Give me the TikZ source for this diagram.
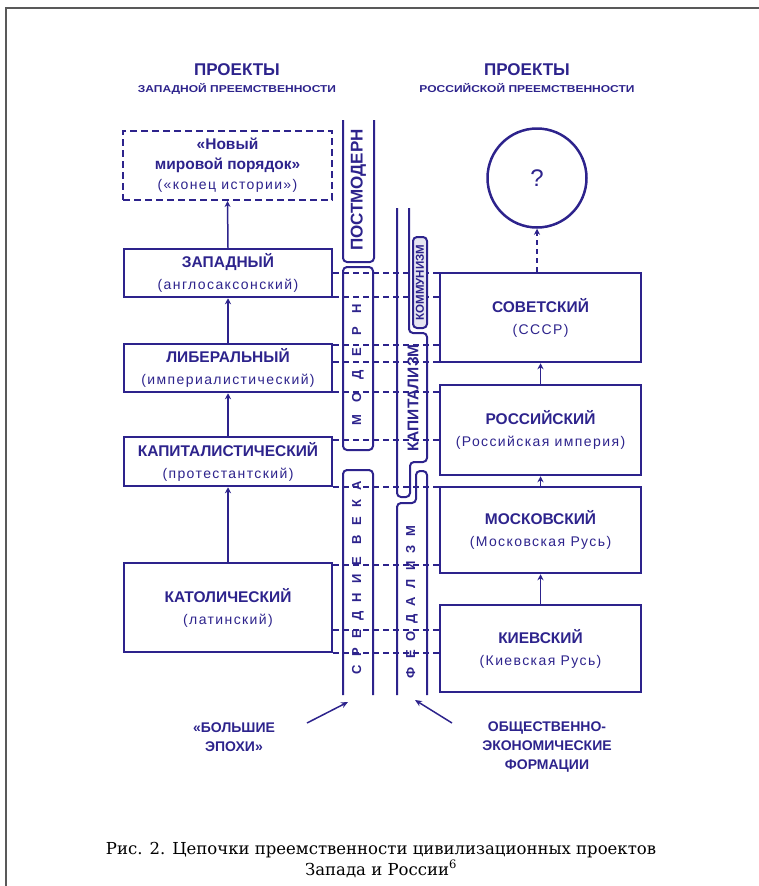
\documentclass[tikz,border=0pt]{standalone}
\usepackage{fontspec}
\setmainfont{Liberation Sans}
\newfontfamily\subfont[LetterSpace=10]{Liberation Sans}
\newfontfamily\capfont{DejaVu Serif}
\usetikzlibrary{arrows.meta}
\definecolor{navy}{RGB}{45,35,140}
\newcommand{\ttl}{\bfseries\fontsize{15.5}{22}\selectfont}
\newcommand{\sbt}{\subfont\fontsize{14}{22}\selectfont}
\newcommand{\spaced}[1]{\bfseries\fontsize{13}{13}\selectfont\addfontfeature{LetterSpace=#1}}

\begin{document}
\begin{tikzpicture}[x=1pt,y=-1pt]
\useasboundingbox (0,0) rectangle (759,886);

\coordinate (H1) at (0,273);
\coordinate (H2) at (0,297);
\coordinate (H3) at (0,345);
\coordinate (H4) at (0,362);
\coordinate (H5) at (0,392);
\coordinate (H6) at (0,440);
\coordinate (H7) at (0,487);
\coordinate (H8) at (0,565);
\coordinate (H9) at (0,630);
\coordinate (H10) at (0,653);
\coordinate (BEtail) at (307,723);
\coordinate (BEtip) at (348,702);
\coordinate (OFtail) at (452,723);
\coordinate (OFtip) at (415,700);

\draw[black!65, line width=1.2pt] (759,8) -- (6,8) -- (6,886);


\tikzset{HeadStyle/.style = {text = navy, inner sep = 0pt, anchor = base} }

\node[HeadStyle, font=\bfseries\fontsize{17}{17}\selectfont] (T1) at (237,75) {ПРОЕКТЫ};
\node[HeadStyle, xscale=1.2, font=\bfseries\fontsize{10}{10}\selectfont] (T2) at (237,92) {ЗАПАДНОЙ ПРЕЕМСТВЕННОСТИ};
\node[HeadStyle, font=\bfseries\fontsize{17}{17}\selectfont] (T3) at (527,75) {ПРОЕКТЫ};
\node[HeadStyle, xscale=1.2, font=\bfseries\fontsize{10}{10}\selectfont] (T4) at (527,92) {РОССИЙСКОЙ ПРЕЕМСТВЕННОСТИ};


\tikzset{BoxStyle/.style = {
 draw = navy,
 line width = 2.5pt,
 text = navy,
 align = center,
 inner sep = 0pt,
 font = \fontsize{15}{22}\selectfont} }

\node[BoxStyle, line width=2pt, dash pattern=on 7pt off 4pt, minimum width=209pt, minimum height=69pt, font=\fontsize{15}{20}\selectfont] (W0) at (227.5,165.5) {{\ttl «Новый}\\{\ttl мировой порядок»}\\{\sbt («конец истории»)}};
\node[BoxStyle, minimum width=208pt, minimum height=48pt] (W1) at (228,273) {{\ttl ЗАПАДНЫЙ}\\{\sbt (англосаксонский)}};
\node[BoxStyle, minimum width=208pt, minimum height=48pt] (W2) at (228,368) {{\ttl ЛИБЕРАЛЬНЫЙ}\\{\sbt (империалистический)}};
\node[BoxStyle, minimum width=208pt, minimum height=49pt] (W3) at (228,461.5) {{\ttl КАПИТАЛИСТИЧЕСКИЙ}\\{\sbt (протестантский)}};
\node[BoxStyle, minimum width=208pt, minimum height=89pt] (W4) at (228,607.5) {{\ttl КАТОЛИЧЕСКИЙ}\\{\sbt (латинский)}};

\node[BoxStyle, minimum width=201pt, minimum height=89pt] (R1) at (540.5,317.5) {{\ttl СОВЕТСКИЙ}\\{\sbt (СССР)}};
\node[BoxStyle, minimum width=201pt, minimum height=90pt] (R2) at (540.5,430) {{\ttl РОССИЙСКИЙ}\\{\sbt (Российская империя)}};
\node[BoxStyle, minimum width=201pt, minimum height=86pt] (R3) at (540.5,530) {{\ttl МОСКОВСКИЙ}\\{\sbt (Московская Русь)}};
\node[BoxStyle, minimum width=201pt, minimum height=87pt] (R4) at (540.5,648.5) {{\ttl КИЕВСКИЙ}\\{\sbt (Киевская Русь)}};

\node[BoxStyle, circle, minimum size=99pt, font=\fontsize{24}{24}\selectfont] (Q) at (537,178) {?};


\tikzset{DashStyle/.style = {draw = navy, line width = 1.5pt, dash pattern = on 6pt off 4pt} }

\draw[DashStyle] (W1.east |- H1) -- (R1.west |- H1);
\draw[DashStyle] (W1.east |- H2) -- (R1.west |- H2);
\draw[DashStyle] (W2.east |- H3) -- (R1.west |- H3);
\draw[DashStyle] (W2.east |- H4) -- (R1.west |- H4);
\draw[DashStyle] (W2.east |- H5) -- (R2.west |- H5);
\draw[DashStyle] (W3.east |- H6) -- (R2.west |- H6);
\draw[DashStyle] (W3.east |- H7) -- (R3.west |- H7);
\draw[DashStyle] (W4.east |- H8) -- (R3.west |- H8);
\draw[DashStyle] (W4.east |- H9) -- (R4.west |- H9);
\draw[DashStyle] (W4.east |- H10) -- (R4.west |- H10);


\tikzset{ArrowStyle/.style = {draw = navy, line width = 1.5pt, -{Stealth[length=6pt, width=6pt]}} }

\draw[ArrowStyle] (W1.north) -- (W0.south);
\draw[ArrowStyle] (W2.north) -- (W1.south);
\draw[ArrowStyle] (W3.north) -- (W2.south);
\draw[ArrowStyle] (W4.north) -- (W3.south);
\draw[ArrowStyle] (R4.north) -- (R3.south);
\draw[ArrowStyle] (R3.north) -- (R2.south);
\draw[ArrowStyle] (R2.north) -- (R1.south);
\draw[ArrowStyle, dash pattern=on 5pt off 4pt] (Q.south |- R1.north) -- (Q.south);


\tikzset{BandStyle/.style = {draw = navy, line width = 2pt, rounded corners = 4pt} }

\draw[BandStyle] (343,120) -- (343,262) -- (374,262) -- (374,120);
\draw[BandStyle] (343,267) rectangle (373,450);
\draw[BandStyle] (343,695) -- (343,470) -- (373,470) -- (373,695);
\draw[BandStyle] (409,208) -- (409,333) -- (427,333) -- (427,462) -- (410,462) -- (410,497) -- (397,497) -- (397,208);
\draw[BandStyle] (427,695) -- (427,471) -- (416,471) -- (416,503) -- (397,503) -- (397,695);
\draw[BandStyle, fill=navy!12] (413,237) rectangle (427,328);

\tikzset{BandText/.style = {rotate = 90, text = navy, inner sep = 0pt} }

\node[BandText, font=\bfseries\fontsize{17}{17}\selectfont] (E1) at (358.5,190) {ПОСТМОДЕРН};
\node[BandText, font=\spaced{100}] (E2) at (358,365) {МОДЕРН};
\node[BandText, font=\spaced{70}] (E3) at (358,578) {СРЕДНИЕ ВЕКА};
\node[BandText, font=\bfseries\fontsize{15.5}{15.5}\selectfont] (F1) at (413,398) {КАПИТАЛИЗМ};
\node[BandText, font=\spaced{64}] (F2) at (412,602) {ФЕОДАЛИЗМ};
\node[BandText, font=\bfseries\fontsize{11.5}{11.5}\selectfont] (F3) at (420,282.5) {КОММУНИЗМ};


\node[text=navy, align=center, font=\bfseries\fontsize{14}{19}\selectfont] (BE) at (234,737) {«БОЛЬШИЕ\\ЭПОХИ»};
\node[text=navy, align=center, font=\bfseries\fontsize{14}{19}\selectfont] (OF) at (547,747) {ОБЩЕСТВЕННО-\\ЭКОНОМИЧЕСКИЕ\\ФОРМАЦИИ};

\tikzset{PointerStyle/.style = {draw = navy, line width = 1.5pt, -{Stealth[length=7pt, width=6pt]}} }

\draw[PointerStyle] (BEtail) -- (BEtip);
\draw[PointerStyle] (OFtail) -- (OFtip);


\node[anchor=base, inner sep=0pt, font=\capfont\fontsize{16.5}{21}\selectfont] (CAP1) at (381,854) {Рис. 2. Цепочки преемственности цивилизационных проектов};
\node[anchor=base, inner sep=0pt, font=\capfont\fontsize{16.5}{21}\selectfont] (CAP2) at (381,875) {Запада и России\textsuperscript{6}};

\end{tikzpicture}
\end{document}
